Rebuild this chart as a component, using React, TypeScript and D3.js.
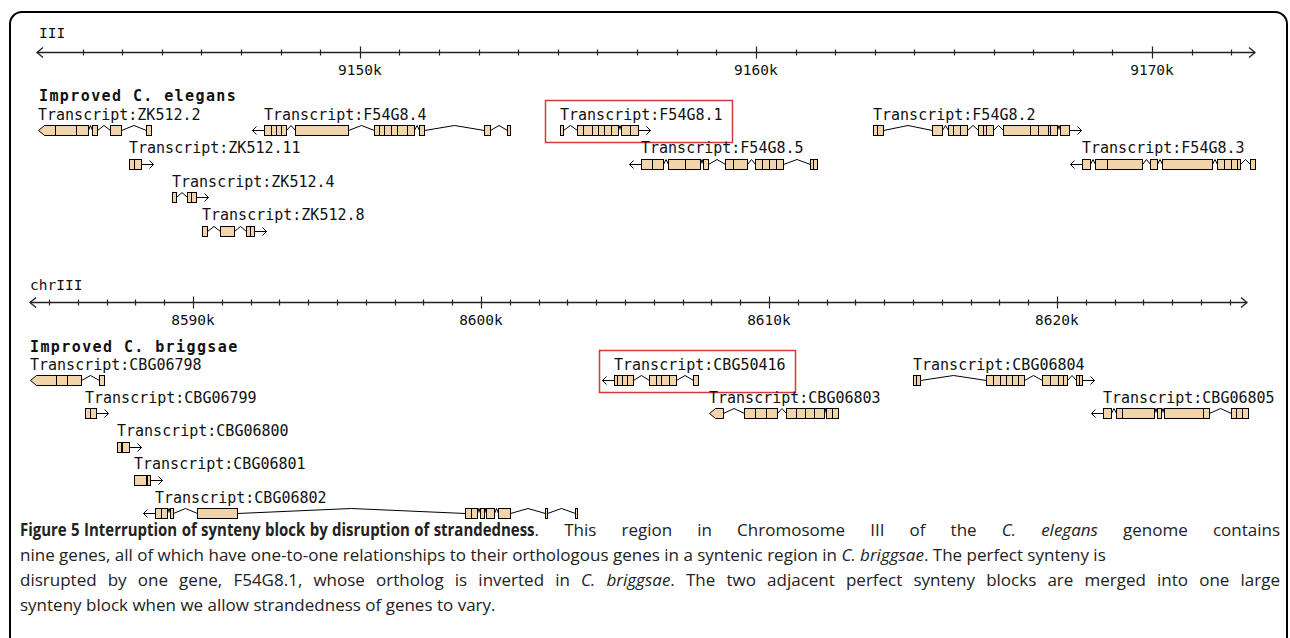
import React, { useMemo } from 'react';
import * as d3 from 'd3';

type Span = [number, number];
type Style = 'n' | 'b' | 'i';
interface Transcript { name: string; strand: 1 | -1; row: number; pointed: boolean; highlight?: boolean; exons: Span[]; }

// ---------------- axes (kb) ----------------
const elegansChrom = 'III';
const elegansTrack = 'Improved C. elegans';
const elegansDomain: Span = [9141.85, 9172.6];
const elegansMajor = [9150, 9160, 9170];
const elegansTickLabels = ['9150k', '9160k', '9170k'];

const briggsaeChrom = 'chrIII';
const briggsaeTrack = 'Improved C. briggsae';
const briggsaeDomain: Span = [8584.34, 8626.6];
const briggsaeMajor = [8590, 8600, 8610, 8620];
const briggsaeTickLabels = ['8590k', '8600k', '8610k', '8620k'];

// ---------------- C. elegans exons (kb) ----------------
const ZK512_2: Span[] = [[9141.869, 9142.298], [9142.298, 9142.828], [9142.828, 9143.131], [9143.232, 9143.358], [9143.687, 9143.965], [9144.596, 9144.722]];
const F54G8_4: Span[] = [[9147.576, 9147.752], [9147.752, 9147.879], [9147.879, 9148.005], [9148.005, 9148.131], [9148.359, 9149.697], [9150.354, 9150.48], [9150.48, 9150.606], [9150.606, 9150.783], [9150.783, 9150.934], [9150.934, 9151.187], [9151.187, 9151.364], [9151.49, 9151.616], [9153.131, 9153.283], [9153.712, 9153.788]];
const F54G8_1: Span[] = [[9155.051, 9155.126], [9155.48, 9155.631], [9155.631, 9155.859], [9155.859, 9156.01], [9156.01, 9156.162], [9156.162, 9156.338], [9156.338, 9156.515], [9156.591, 9156.818], [9156.818, 9157.02]];
const F54G8_2: Span[] = [[9162.955, 9163.056], [9163.056, 9163.207], [9164.444, 9164.697], [9164.848, 9164.975], [9164.975, 9165.152], [9165.152, 9165.328], [9165.606, 9165.732], [9165.732, 9165.808], [9165.808, 9165.985], [9166.237, 9166.919], [9166.919, 9167.121], [9167.121, 9167.374], [9167.374, 9167.424], [9167.424, 9167.601], [9167.677, 9167.904]];
const ZK512_11: Span[] = [[9144.167, 9144.293], [9144.293, 9144.47]];
const F54G8_5: Span[] = [[9157.096, 9157.374], [9157.374, 9157.652], [9157.778, 9158.207], [9158.207, 9158.586], [9158.662, 9158.788], [9159.217, 9159.419], [9159.419, 9159.773], [9159.975, 9160.152], [9160.152, 9160.328], [9160.328, 9160.505], [9160.505, 9160.682], [9161.364, 9161.439], [9161.439, 9161.54]];
const F54G8_3: Span[] = [[9168.232, 9168.434], [9168.561, 9168.864], [9168.864, 9169.747], [9169.949, 9170.126], [9170.253, 9171.515], [9171.641, 9171.818], [9171.818, 9171.995], [9171.995, 9172.146], [9172.146, 9172.222], [9172.475, 9172.601]];
const ZK512_4: Span[] = [[9145.252, 9145.354], [9145.631, 9145.732], [9145.732, 9145.859]];
const ZK512_8: Span[] = [[9146.01, 9146.136], [9146.465, 9146.818], [9147.121, 9147.222], [9147.222, 9147.323]];

// ---------------- C. briggsae exons (kb) ----------------
const CBG06798: Span[] = [[8584.34, 8585.243], [8585.243, 8585.625], [8585.625, 8586.111], [8586.736, 8586.91]];
const CBG06799: Span[] = [[8586.25, 8586.424], [8586.424, 8586.632]];
const CBG06800: Span[] = [[8587.361, 8587.5], [8587.535, 8587.778]];
const CBG06801: Span[] = [[8587.951, 8588.368], [8588.403, 8588.507]];
const CBG06802: Span[] = [[8588.681, 8588.889], [8588.889, 8589.097], [8589.201, 8589.306], [8590.139, 8591.528], [8599.444, 8599.653], [8599.653, 8599.861], [8599.965, 8600.104], [8600.174, 8600.451], [8600.59, 8601.007], [8602.222, 8602.292], [8603.264, 8603.333]];
const CBG50416: Span[] = [[8604.618, 8604.722], [8604.722, 8604.896], [8604.896, 8605.069], [8605.069, 8605.278], [8605.833, 8606.076], [8606.076, 8606.25], [8606.25, 8606.528], [8606.528, 8606.771], [8607.361, 8607.535]];
const CBG06803: Span[] = [[8607.917, 8608.403], [8609.132, 8609.514], [8609.514, 8609.896], [8609.896, 8610.278], [8610.59, 8610.938], [8610.938, 8611.25], [8611.25, 8611.563], [8611.563, 8611.91], [8611.979, 8612.188], [8612.188, 8612.396]];
const CBG06804: Span[] = [[8615.0, 8615.104], [8615.104, 8615.243], [8617.535, 8617.778], [8617.778, 8618.021], [8618.021, 8618.229], [8618.229, 8618.438], [8618.438, 8618.646], [8618.646, 8618.854], [8619.479, 8619.757], [8619.757, 8620.035], [8620.035, 8620.208], [8620.208, 8620.347], [8620.66, 8620.764], [8620.764, 8620.868]];
const CBG06805: Span[] = [[8621.597, 8621.875], [8622.049, 8622.257], [8622.257, 8623.368], [8623.472, 8623.611], [8623.715, 8625.069], [8625.069, 8625.278], [8626.042, 8626.215], [8626.215, 8626.424], [8626.424, 8626.632]];

const elegansTranscripts: Transcript[] = [
  { name: 'Transcript:ZK512.2', strand: -1, row: 0, pointed: true, exons: ZK512_2 },
  { name: 'Transcript:F54G8.4', strand: -1, row: 0, pointed: false, exons: F54G8_4 },
  { name: 'Transcript:F54G8.1', strand: 1, row: 0, pointed: false, highlight: true, exons: F54G8_1 },
  { name: 'Transcript:F54G8.2', strand: 1, row: 0, pointed: false, exons: F54G8_2 },
  { name: 'Transcript:ZK512.11', strand: 1, row: 1, pointed: false, exons: ZK512_11 },
  { name: 'Transcript:F54G8.5', strand: -1, row: 1, pointed: false, exons: F54G8_5 },
  { name: 'Transcript:F54G8.3', strand: -1, row: 1, pointed: false, exons: F54G8_3 },
  { name: 'Transcript:ZK512.4', strand: 1, row: 2, pointed: false, exons: ZK512_4 },
  { name: 'Transcript:ZK512.8', strand: 1, row: 3, pointed: false, exons: ZK512_8 },
];

const briggsaeTranscripts: Transcript[] = [
  { name: 'Transcript:CBG06798', strand: -1, row: 0, pointed: true, exons: CBG06798 },
  { name: 'Transcript:CBG50416', strand: -1, row: 0, pointed: false, highlight: true, exons: CBG50416 },
  { name: 'Transcript:CBG06804', strand: 1, row: 0, pointed: false, exons: CBG06804 },
  { name: 'Transcript:CBG06799', strand: 1, row: 1, pointed: false, exons: CBG06799 },
  { name: 'Transcript:CBG06803', strand: -1, row: 1, pointed: true, exons: CBG06803 },
  { name: 'Transcript:CBG06805', strand: -1, row: 1, pointed: false, exons: CBG06805 },
  { name: 'Transcript:CBG06800', strand: 1, row: 2, pointed: false, exons: CBG06800 },
  { name: 'Transcript:CBG06801', strand: 1, row: 3, pointed: false, exons: CBG06801 },
  { name: 'Transcript:CBG06802', strand: -1, row: 4, pointed: false, exons: CBG06802 },
];

// ---------------- caption ----------------
const captionLines: [string, Style][][] = [
  [['Figure 5 Interruption of synteny block by disruption of strandedness', 'b'], ['. This region in Chromosome III of the ', 'n'], ['C. elegans', 'i'], [' genome contains', 'n']],
  [['nine genes, all of which have one-to-one relationships to their orthologous genes in a syntenic region in ', 'n'], ['C. briggsae', 'i'], ['. The perfect synteny is', 'n']],
  [['disrupted by one gene, F54G8.1, whose ortholog is inverted in ', 'n'], ['C. briggsae', 'i'], ['. The two adjacent perfect synteny blocks are merged into one large', 'n']],
  [['synteny block when we allow strandedness of genes to vary.', 'n']],
];
const captionJustified = [true, false, true, false];

// ---------------- styling ----------------
const MONO = '"DejaVu Sans Mono", "Liberation Mono", monospace';
const SANS = '"Open Sans", "Noto Sans", sans-serif';
const EXON_FILL = '#F1D4AA';
const INK = '#111';
const CHAR_W = 9.03;

interface PanelLayout { domain: Span; range: Span; axisY: number; chromX: number; chromY: number; titleX: number; titleY: number; row0: number; rowStep: number; }

const topLayout: PanelLayout = { domain: elegansDomain, range: [37, 1255], axisY: 52, chromX: 39, chromY: 38, titleX: 39, titleY: 101, row0: 130, rowStep: 33.5 };
const botLayout: PanelLayout = { domain: briggsaeDomain, range: [30, 1247], axisY: 302, chromX: 30, chromY: 290, titleX: 30, titleY: 352, row0: 380, rowStep: 33.3 };

const snap = (v: number) => Math.round(v) + 0.5;

function Axis({ layout, major, labels, chrom }: { layout: PanelLayout; major: number[]; labels: string[]; chrom: string }) {
  const x = d3.scaleLinear().domain(layout.domain).range(layout.range);
  const y = layout.axisY + 0.5;
  const [x0, x1] = layout.range;
  const minor = d3.range(Math.ceil(layout.domain[0]), layout.domain[1])
    .filter((v) => v % 10 !== 0 && x(v) > x0 + 8 && x(v) < x1 - 8);
  return (
    <g>
      <text x={layout.chromX} y={layout.chromY} fontFamily={MONO} fontSize={14.5} fill={INK}>{chrom}</text>
      <line x1={x0} x2={x1} y1={y} y2={y} stroke="#222" strokeWidth={1.3} />
      <path d={`M${x0 + 6},${y - 5}L${x0},${y}L${x0 + 6},${y + 5}`} fill="none" stroke="#222" strokeWidth={1.3} />
      <path d={`M${x1 - 6},${y - 5}L${x1},${y}L${x1 - 6},${y + 5}`} fill="none" stroke="#222" strokeWidth={1.3} />
      {minor.map((v) => (
        <line key={v} x1={snap(x(v))} x2={snap(x(v))} y1={y - 3} y2={y + 3} stroke="#222" strokeWidth={1.2} />
      ))}
      {major.map((v, i) => (
        <g key={v}>
          <line x1={snap(x(v))} x2={snap(x(v))} y1={y - 6} y2={y + 6} stroke="#222" strokeWidth={1.2} />
          <text x={x(v)} y={y + 22} textAnchor="middle" fontFamily={MONO} fontSize={14.5} fill={INK}>{labels[i]}</text>
        </g>
      ))}
    </g>
  );
}

function Glyph({ t, x, cy }: { t: Transcript; x: d3.ScaleLinear<number, number>; cy: number }) {
  const h = 5;
  const c = Math.round(cy) + 0.5;
  const px = t.exons.map(([a, b]) => [Math.round(x(a)) + 0.5, Math.round(x(b)) + 0.5]);
  const first = px[0][0];
  const last = px[px.length - 1][1];
  const parts: React.ReactNode[] = [];
  for (let i = 1; i < px.length; i++) {
    const a = px[i - 1][1];
    const b = px[i][0];
    if (b - a > 1.5) {
      parts.push(<path key={'in' + i} d={`M${a},${c}L${(a + b) / 2},${c - h}L${b},${c}`} fill="none" stroke="#000" strokeWidth={1} />);
    }
  }
  if (!t.pointed) {
    if (t.strand > 0) {
      const tip = last + 12;
      parts.push(<path key="arr" d={`M${last},${c}L${tip},${c}M${tip - 4},${c - 4}L${tip},${c}L${tip - 4},${c + 4}`} fill="none" stroke="#000" strokeWidth={1} />);
    } else {
      const tip = first - 12;
      parts.push(<path key="arr" d={`M${first},${c}L${tip},${c}M${tip + 4},${c - 4}L${tip},${c}L${tip + 4},${c + 4}`} fill="none" stroke="#000" strokeWidth={1} />);
    }
  }
  px.forEach(([a, b], i) => {
    const w = Math.max(b - a, 2);
    if (t.pointed && t.strand < 0 && i === 0) {
      const tp = Math.min(6, w - 1);
      parts.push(<path key={'ex' + i} d={`M${a},${c}L${a + tp},${c - h}L${a + w},${c - h}L${a + w},${c + h}L${a + tp},${c + h}Z`} fill={EXON_FILL} stroke="#000" strokeWidth={1} />);
    } else {
      parts.push(<rect key={'ex' + i} x={a} y={c - h} width={w} height={2 * h} fill={EXON_FILL} stroke="#000" strokeWidth={1} />);
    }
  });
  const labelY = cy - 10.5;
  return (
    <g>
      <text x={first - 0.5} y={labelY} fontFamily={MONO} fontSize={15} fill={INK}>{t.name}</text>
      {parts}
      {t.highlight && (
        <rect x={snap(first - 16)} y={snap(labelY - 20)} width={Math.round(t.name.length * CHAR_W + 24)} height={Math.round(c + 11 - (labelY - 20))}
          fill="none" stroke="#d33a3a" strokeWidth={1.5} />
      )}
    </g>
  );
}

function Panel({ layout, transcripts, major, labels, chrom, title }: { layout: PanelLayout; transcripts: Transcript[]; major: number[]; labels: string[]; chrom: string; title: string }) {
  const x = d3.scaleLinear().domain(layout.domain).range(layout.range);
  return (
    <g>
      <Axis layout={layout} major={major} labels={labels} chrom={chrom} />
      <text x={layout.titleX} y={layout.titleY} fontFamily={MONO} fontWeight="bold" fontSize={15} letterSpacing={1.4} fill={INK}>{title}</text>
      {transcripts.map((t) => (
        <Glyph key={t.name} t={t} x={x} cy={layout.row0 + t.row * layout.rowStep} />
      ))}
    </g>
  );
}

const CAP_SIZE = 17;
const CAP_SX: Record<Style, number> = { n: 1.0, i: 1.0, b: 0.88 };
const CAP_X0 = 20;
const CAP_X1 = 1280;
const CAP_Y0 = 536;
const CAP_DY = 25;

function fontOf(s: Style) {
  return `${s === 'i' ? 'italic ' : ''}${s === 'b' ? 'bold ' : ''}${CAP_SIZE}px "Open Sans"`;
}

function Caption() {
  const layout = useMemo(() => {
    const canvas = document.createElement('canvas');
    const ctx = canvas.getContext('2d')!;
    const meas = (t: string, s: Style) => { ctx.font = fontOf(s); return ctx.measureText(t).width * CAP_SX[s]; };
    return captionLines.map((segs, li) => {
      const words: { t: string; s: Style }[][] = [[]];
      segs.forEach(([txt, s]) => {
        txt.split(' ').forEach((p, k) => {
          if (k > 0) words.push([]);
          if (p) words[words.length - 1].push({ t: p, s });
        });
      });
      const ws = words.filter((w) => w.length);
      const widths = ws.map((w) => w.reduce((acc, p) => acc + meas(p.t, p.s), 0));
      const spaceN = meas(' ', 'n');
      const gapStretch = ws.slice(1).map((w, k) => ws[k][ws[k].length - 1].s !== 'b');
      const total = widths.reduce((a, b) => a + b, 0) + spaceN * (ws.length - 1);
      let extra = 0;
      if (captionJustified[li]) {
        const n = gapStretch.filter(Boolean).length;
        extra = n ? Math.max(0, (CAP_X1 - CAP_X0 - total) / n) : 0;
      }
      const out: { x: number; t: string; s: Style }[] = [];
      let cx = CAP_X0;
      ws.forEach((w, k) => {
        if (k > 0) cx += spaceN + (gapStretch[k - 1] ? extra : 0);
        w.forEach((p) => { out.push({ x: cx, t: p.t, s: p.s }); cx += meas(p.t, p.s); });
      });
      return out;
    });
  }, []);
  return (
    <g>
      {layout.map((line, li) => line.map((p, k) => (
        <text key={li + '-' + k} transform={`translate(${p.x},${CAP_Y0 + li * CAP_DY}) scale(${CAP_SX[p.s]},1)`}
          fontFamily={SANS} fontSize={CAP_SIZE} fontWeight={p.s === 'b' ? 'bold' : 'normal'} fontStyle={p.s === 'i' ? 'italic' : 'normal'} fill="#222">{p.t}</text>
      )))}
    </g>
  );
}

export default function App() {
  return (
    <svg width={1290} height={638} style={{ position: 'absolute', left: 0, top: 0, background: '#fff' }}>
      <rect x={0} y={0} width={1290} height={638} fill="#fff" />
      <rect x={10} y={12} width={1277} height={900} rx={12} ry={12} fill="none" stroke="#000" strokeWidth={2} />
      <Panel layout={topLayout} transcripts={elegansTranscripts} major={elegansMajor} labels={elegansTickLabels} chrom={elegansChrom} title={elegansTrack} />
      <Panel layout={botLayout} transcripts={briggsaeTranscripts} major={briggsaeMajor} labels={briggsaeTickLabels} chrom={briggsaeChrom} title={briggsaeTrack} />
      <Caption />
    </svg>
  );
}
